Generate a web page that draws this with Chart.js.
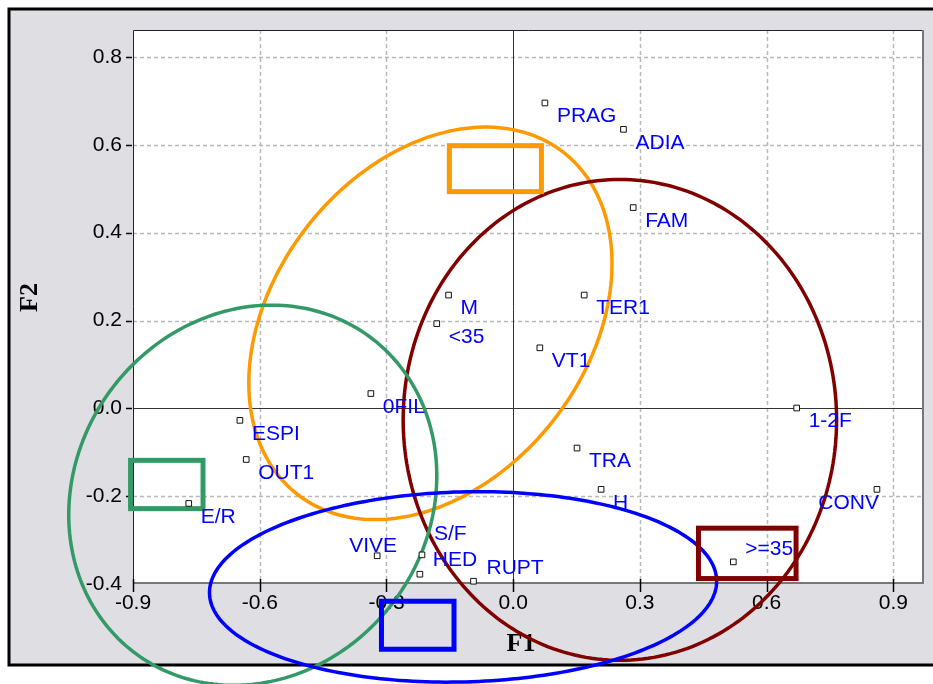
<!DOCTYPE html>
<html>
<head>
<meta charset="utf-8">
<script src="https://cdn.jsdelivr.net/npm/chart.js@4"></script>
<style>
  html, body { margin: 0; padding: 0; background: #fff; }
  #wrap { width: 933px; height: 684px; position: relative; }
</style>
</head>
<body>
<div id="wrap"><canvas id="c" width="933" height="684"></canvas></div>
<script>
// Modalities projected on the first factorial plane (F1 x F2)
const categories = ['PRAG', 'ADIA', 'FAM', 'M', '<35', 'TER1', 'VT1', '0FIL', '1-2F', 'ESPI',
                    'OUT1', 'E/R', 'TRA', 'H', 'CONV', 'VIVE', 'S/F', 'HED', 'RUPT', '>=35'];
const f1Values = [0.075, 0.261, 0.284, -0.153, -0.181, 0.168, 0.063, -0.337, 0.671, -0.647,
                  -0.632, -0.768, 0.151, 0.208, 0.861, -0.322, -0.216, -0.221, -0.094, 0.521];
const f2Values = [0.695, 0.635, 0.457, 0.258, 0.193, 0.258, 0.138, 0.034, 0.001, -0.027,
                  -0.116, -0.216, -0.090, -0.184, -0.184, -0.335, -0.333, -0.377, -0.393, -0.349];

const xTickValues = [-0.9, -0.6, -0.3, 0.0, 0.3, 0.6, 0.9];
const yTickValues = [-0.4, -0.2, 0.0, 0.2, 0.4, 0.6, 0.8];

// Group ellipses: centre and two conjugate semi-axis vectors, in F1/F2 units
const ellipseF1 = [-0.196, 0.2525, -0.6165, -0.1187];
const ellipseF2 = [0.1937, -0.0259, -0.1973, -0.4059];
const ellipseU = [[0.3144, 0.3894], [0.513, 0.0], [0.276, 0.361], [0.6002, 0.0151]];
const ellipseV = [[-0.2931, 0.2184], [0.0, 0.547], [-0.337, 0.238], [-0.0059, 0.2161]];

// Group centroid boxes: centre and extent, in F1/F2 units
const boxF1 = [-0.0422, 0.554, -0.820, -0.226];
const boxF2 = [0.5456, -0.3296, -0.1729, -0.4931];
const boxW = [0.2179, 0.231, 0.1715, 0.1717];
const boxH = [0.1046, 0.1146, 0.1099, 0.1092];

const groupColours = ['#ff9900', '#800000', '#339966', '#0000ff'];

// label placement around each marker: [dx, dy, align]
const labelPlacement = {
  'VIVE': [-4, -10, 'center'],
  'S/F': [12, -21, 'left'],
  'HED': [13, -14, 'left'],
  'RUPT': [13, -13, 'left'],
  '>=35': [12, -13, 'left'],
  'CONV': [2, 14, 'right']
};
const defaultPlacement = [12, 13.5, 'left'];

const SANS = '"Liberation Sans", Arial, sans-serif';
const SERIF = '"Liberation Serif", "Times New Roman", serif';

const decor = {
  id: 'decor',
  beforeDraw(chart) {
    const { ctx, chartArea: a, scales: { x, y } } = chart;
    ctx.save();
    ctx.fillStyle = '#ffffff';
    ctx.fillRect(0, 0, chart.width, chart.height);
    ctx.fillStyle = '#dedee3';
    ctx.fillRect(9, 9, chart.width + 20, 656);
    ctx.strokeStyle = '#000';
    ctx.lineWidth = 3;
    ctx.strokeRect(9, 9, chart.width + 20, 656);
    ctx.fillStyle = '#ffffff';
    ctx.fillRect(a.left, a.top, a.width, a.height);

    // dashed grid
    ctx.strokeStyle = '#b9b9b9';
    ctx.lineWidth = 1.5;
    ctx.setLineDash([4, 3]);
    xTickValues.forEach(v => {
      if (v === 0 || v <= x.min || v >= x.max) return;
      const px = Math.round(x.getPixelForValue(v)) + 0.5;
      ctx.beginPath(); ctx.moveTo(px, a.top); ctx.lineTo(px, a.bottom); ctx.stroke();
    });
    yTickValues.forEach(v => {
      if (v === 0 || v <= y.min || v >= y.max) return;
      const py = Math.round(y.getPixelForValue(v)) + 0.5;
      ctx.beginPath(); ctx.moveTo(a.left, py); ctx.lineTo(a.right, py); ctx.stroke();
    });
    ctx.setLineDash([]);

    // origin lines
    ctx.strokeStyle = '#333';
    ctx.lineWidth = 1;
    const x0 = Math.round(x.getPixelForValue(0)) + 0.5;
    const y0 = Math.round(y.getPixelForValue(0)) + 0.5;
    ctx.beginPath(); ctx.moveTo(x0, a.top); ctx.lineTo(x0, a.bottom); ctx.stroke();
    ctx.beginPath(); ctx.moveTo(a.left, y0); ctx.lineTo(a.right, y0); ctx.stroke();

    // frame of the plotting area
    ctx.strokeStyle = '#222';
    ctx.lineWidth = 1;
    ctx.beginPath();
    ctx.moveTo(a.left + 0.5, a.bottom); ctx.lineTo(a.left + 0.5, a.top + 0.5); ctx.lineTo(a.right, a.top + 0.5);
    ctx.stroke();
    ctx.strokeStyle = '#777';
    ctx.lineWidth = 2;
    ctx.beginPath();
    ctx.moveTo(a.right, a.top); ctx.lineTo(a.right, a.bottom); ctx.lineTo(a.left, a.bottom);
    ctx.stroke();

    // tick marks
    ctx.strokeStyle = '#000';
    ctx.lineWidth = 1.5;
    yTickValues.forEach(v => {
      if (v < y.min || v > y.max) return;
      const py = Math.round(y.getPixelForValue(v)) + 0.5;
      ctx.beginPath(); ctx.moveTo(a.left - 7, py); ctx.lineTo(a.left - 1, py); ctx.stroke();
    });
    xTickValues.forEach(v => {
      if (v < x.min || v > x.max) return;
      const px = Math.round(x.getPixelForValue(v)) + 0.5;
      ctx.beginPath(); ctx.moveTo(px, a.bottom - 4); ctx.lineTo(px, a.bottom + 9); ctx.stroke();
    });

    // axis titles
    ctx.fillStyle = '#000';
    ctx.font = 'bold 26px ' + SERIF;
    ctx.textAlign = 'center';
    ctx.textBaseline = 'middle';
    ctx.fillText('F1', (a.left + a.right) / 2 - 7, a.bottom + 61);
    ctx.save();
    ctx.translate(30, (a.top + a.bottom) / 2 - 9);
    ctx.rotate(-Math.PI / 2);
    ctx.fillText('F2', 0, 0);
    ctx.restore();
    ctx.restore();
  },
  beforeDatasetsDraw(chart) {
    const { ctx, scales: { x, y } } = chart;
    ctx.save();
    // ellipses
    ellipseF1.forEach((cx, i) => {
      const cy = ellipseF2[i];
      const u = ellipseU[i], v = ellipseV[i];
      ctx.strokeStyle = groupColours[i];
      ctx.lineWidth = 3.5;
      ctx.beginPath();
      const n = 240;
      for (let k = 0; k <= n; k++) {
        const t = (k / n) * Math.PI * 2;
        const px = x.getPixelForValue(cx + u[0] * Math.cos(t) + v[0] * Math.sin(t));
        const py = y.getPixelForValue(cy + u[1] * Math.cos(t) + v[1] * Math.sin(t));
        if (k === 0) ctx.moveTo(px, py); else ctx.lineTo(px, py);
      }
      ctx.closePath();
      ctx.stroke();
    });
    // centroid boxes
    boxF1.forEach((cx, i) => {
      const cy = boxF2[i];
      const l = x.getPixelForValue(cx - boxW[i] / 2), r = x.getPixelForValue(cx + boxW[i] / 2);
      const t = y.getPixelForValue(cy + boxH[i] / 2), b = y.getPixelForValue(cy - boxH[i] / 2);
      ctx.strokeStyle = groupColours[i];
      ctx.lineWidth = 5;
      ctx.strokeRect(l, t, r - l, b - t);
    });
    ctx.restore();
  },
  afterDatasetsDraw(chart) {
    const { ctx, scales: { x, y } } = chart;
    ctx.save();
    ctx.fillStyle = '#0000ff';
    ctx.font = '21px ' + SANS;
    ctx.textBaseline = 'middle';
    categories.forEach((name, i) => {
      const [dx, dy, align] = labelPlacement[name] || defaultPlacement;
      ctx.textAlign = align;
      ctx.fillText(name, x.getPixelForValue(f1Values[i]) + dx, y.getPixelForValue(f2Values[i]) + dy);
    });
    ctx.restore();
  }
};

new Chart(document.getElementById('c'), {
  type: 'scatter',
  data: {
    datasets: [{
      data: categories.map((c, i) => ({ x: f1Values[i], y: f2Values[i] })),
      pointStyle: 'rect',
      pointRadius: 4,
      pointHoverRadius: 4,
      borderWidth: 1,
      borderColor: '#111',
      backgroundColor: '#fff',
      clip: false
    }]
  },
  options: {
    responsive: false,
    animation: false,
    devicePixelRatio: 1,
    events: [],
    layout: { padding: { top: 30, right: 10, left: 0, bottom: 0 } },
    plugins: { legend: { display: false }, tooltip: { enabled: false } },
    scales: {
      x: {
        type: 'linear', min: -0.9, max: 0.97,
        afterBuildTicks: s => { s.ticks = xTickValues.map(v => ({ value: v })); },
        afterFit: s => { s.height = 101; },
        grid: { display: false, drawTicks: false },
        border: { display: false },
        ticks: { autoSkip: false, maxRotation: 0, padding: 8, color: '#000',
                 font: { family: SANS, size: 21 }, callback: v => Number(v).toFixed(1) }
      },
      y: {
        type: 'linear', min: -0.397, max: 0.861,
        afterBuildTicks: s => { s.ticks = yTickValues.map(v => ({ value: v })); },
        afterFit: s => { s.width = 133; },
        grid: { display: false, drawTicks: false },
        border: { display: false },
        ticks: { autoSkip: false, padding: 11, color: '#000',
                 font: { family: SANS, size: 21 }, callback: v => Number(v).toFixed(1) }
      }
    }
  },
  plugins: [decor]
});
</script>
</body>
</html>
